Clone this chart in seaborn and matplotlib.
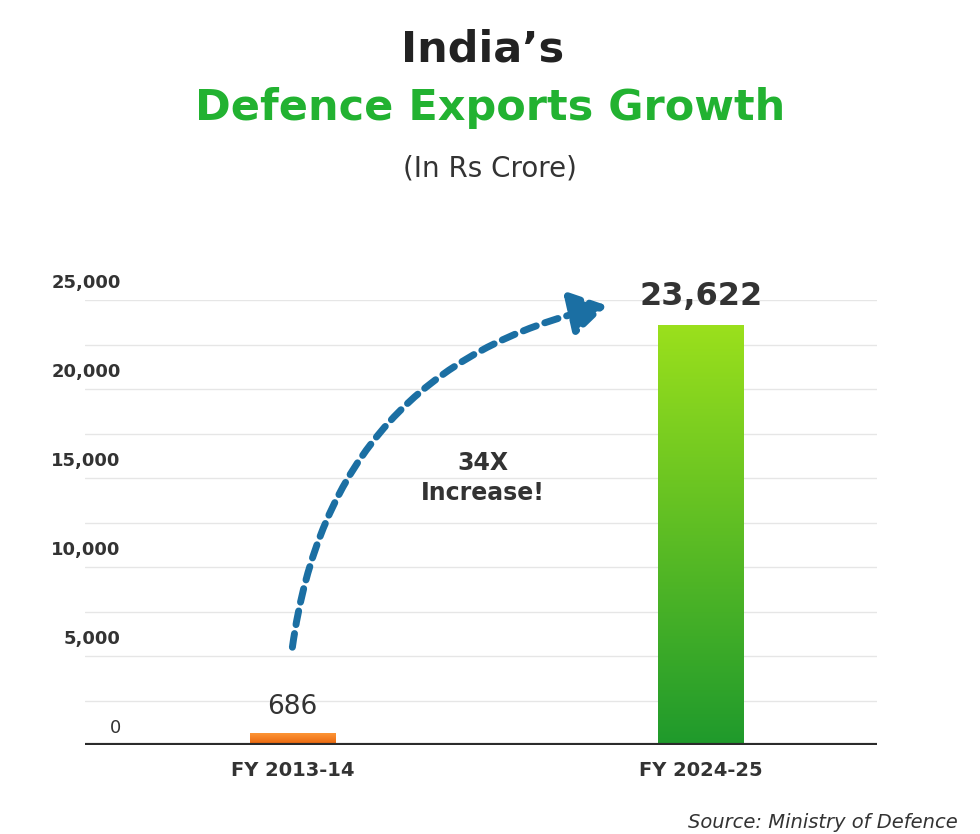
import matplotlib
matplotlib.use("Agg")
import matplotlib.pyplot as plt
import seaborn as sns
import numpy as np
import pandas as pd
from matplotlib.colors import LinearSegmentedColormap
import matplotlib.transforms as mtrans

categories = ["FY 2013-14", "FY 2024-25"]
values = [686, 23622]
value_labels = ["686", "23,622"]
ytick_vals = [0, 5000, 10000, 15000, 20000, 25000]
ytick_labels = ["0", "5,000", "10,000", "15,000", "20,000", "25,000"]

sns.set_theme(style="white")
plt.rcParams['font.family'] = ['DejaVu Sans']

fig = plt.figure(figsize=(9.8, 8.34), dpi=100)
ax = fig.add_axes([85/980, 1-745/834, (877-85)/980, (745-300)/834])
df = pd.DataFrame({"cat": categories, "val": values})
sns.barplot(data=df, x="cat", y="val", ax=ax, width=0.21, color="#f07a10", saturation=1)

# gradients (first colour = bottom, last = top)
grads = [LinearSegmentedColormap.from_list("o", ["#e8620a", "#ff9a3a"]),
         LinearSegmentedColormap.from_list("g", ["#1f9a2c", "#9be01c"])]
for p, cm in zip(ax.patches, grads):
    x0, y0 = p.get_x(), p.get_y()
    w, h = p.get_width(), p.get_height()
    grad = np.linspace(0, 1, 256).reshape(-1, 1)
    im = ax.imshow(grad, cmap=cm, aspect="auto", extent=[x0, x0+w, y0, y0+h], origin="lower", zorder=3)
    im.set_clip_path(p)
    p.set_alpha(0)
ax.set_ylim(0, 25000)
ax.set_xlim(-0.508, 1.432)

for sp in ax.spines.values():
    sp.set_visible(False)
ax.axhline(0, color="#2b2b2b", lw=3, zorder=5)
for v in np.arange(2500, 25001, 2500):
    ax.axhline(v, color="#e6e6e6", lw=1, zorder=0)
ax.set_yticks([]); ax.set_xticks([])
ax.set_xlabel(""); ax.set_ylabel("")

tr = mtrans.blended_transform_factory(ax.transAxes, ax.transData) + \
     mtrans.ScaledTranslation(0, 6/72, fig.dpi_scale_trans)
for v, l in zip(ytick_vals, ytick_labels):
    ax.text(0.045, v, l, transform=tr, ha="right", va="bottom", fontsize=13,
            fontweight="bold" if v else "normal", color="#333333")

for i, c in enumerate(categories):
    ax.text(i, -900, c, ha="center", va="top", fontsize=14, fontweight="bold", color="#333333")
ax.text(0, values[0] + 700, value_labels[0], ha="center", va="bottom", fontsize=19, color="#333333")
ax.text(1, values[1] + 700, value_labels[1], ha="center", va="bottom", fontsize=23, fontweight="bold", color="#333333", clip_on=False)

ax.annotate("", xy=(610/980, 1-305/834), xytext=(292/980, 1-650/834),
            xycoords="figure fraction", textcoords="figure fraction",
            arrowprops=dict(arrowstyle="-|>,head_length=1.8,head_width=1.1", color="#1b6fa3",
                            lw=5, linestyle=(0, (2, 1.3)), connectionstyle="arc3,rad=-0.35"))
fig.text(483/980, 1-478/834, "34X\nIncrease!", ha="center", va="center", fontsize=17,
         fontweight="bold", color="#333333", linespacing=1.3)

fig.text(483/980, 1-50/834, "India\u2019s", ha="center", va="center", fontsize=31, fontweight="bold", color="#222222")
fig.text(490/980, 1-108/834, "Defence Exports Growth", ha="center", va="center", fontsize=31, fontweight="bold", color="#22b231")
fig.text(490/980, 1-168/834, "(In Rs Crore)", ha="center", va="center", fontsize=20, color="#333333")
fig.text(958/980, 1-822/834, "Source: Ministry of Defence", ha="right", va="center", fontsize=14, style="italic", color="#333333")

fig.savefig("out.png", dpi=100, facecolor="white")
